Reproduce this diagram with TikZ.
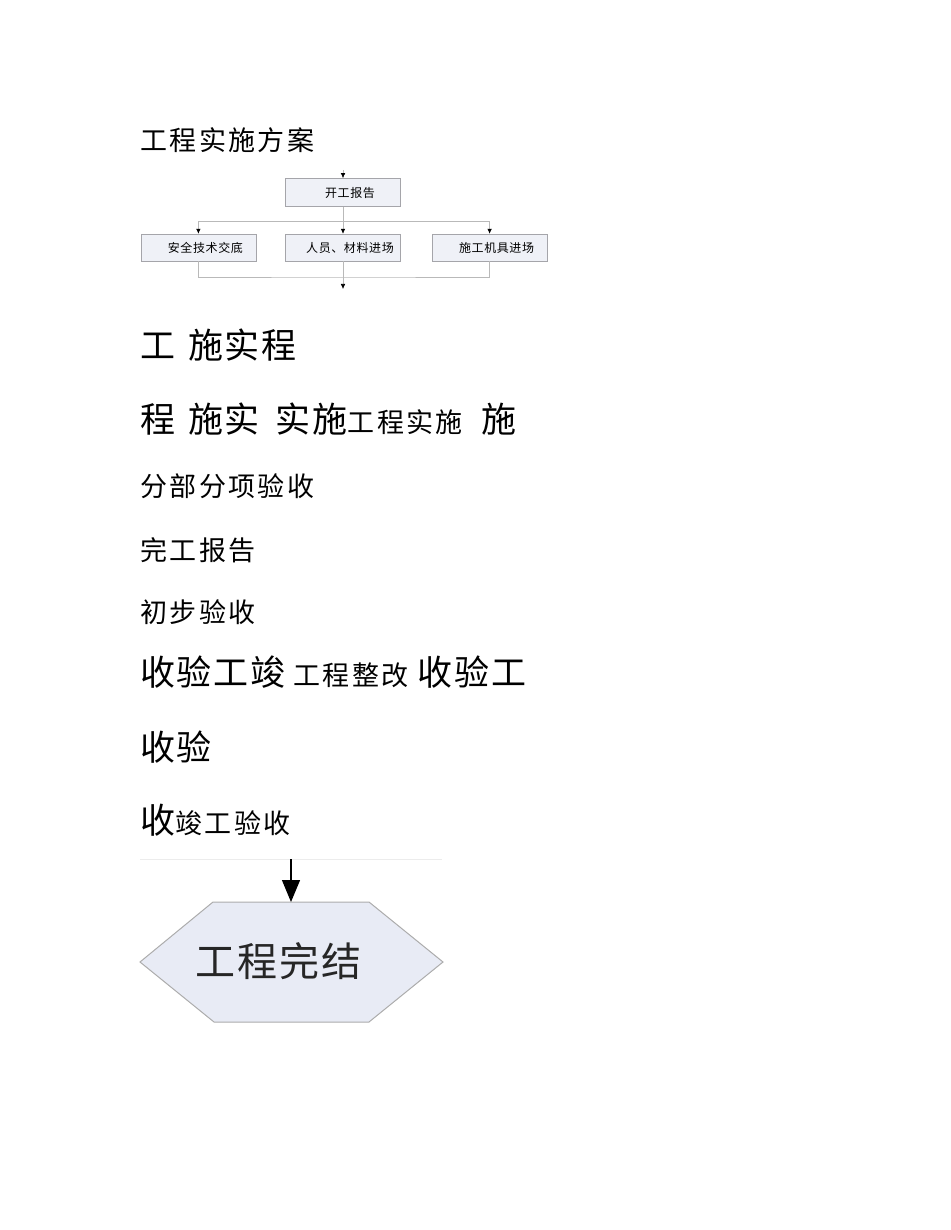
\documentclass[tikz,border=0pt]{standalone}
\usepackage{fontspec}
\newfontfamily\cjkfont[LetterSpace=5]{Noto Sans CJK SC}
\newfontfamily\cjkwide[LetterSpace=9]{Noto Sans CJK SC}
\usetikzlibrary{arrows.meta}
\usetikzlibrary{positioning}
\definecolor{boxfill}{RGB}{239,241,247}
\definecolor{boxline}{RGB}{165,165,170}
\definecolor{hexfill}{RGB}{232,235,245}
\newcommand{\DaZi}{\cjkfont\fontsize{35}{35}\selectfont}
\newcommand{\XiaoZi}{\cjkwide\fontsize{27}{27}\selectfont}
\newcommand{\Kong}{\hspace{13pt}}
\tikzstyle{stepbox} = [rectangle,fill=boxfill,draw=boxline,line width=0.6pt,minimum width=115pt,minimum height=27pt,inner sep=0pt, font=\cjkfont\fontsize{12}{12}\selectfont, execute at begin node=\hspace*{14pt}]
\tikzstyle{hexline} = [fill=hexfill,draw=gray!65,line width=1pt]
\tikzstyle{textline} = [anchor=west,inner sep=0pt,font=\cjkfont]

\begin{document}
\begin{tikzpicture}[x=1pt,y=-1pt,
  flow/.style={draw=gray!55,line width=0.6pt},
  flowarr/.style={flow,-{Latex[length=5pt,width=4.5pt,black]}},
  bigarr/.style={draw=black,line width=1.2pt,-{Triangle[length=22pt,width=18pt]}}]
\useasboundingbox (0,0) rectangle (950,1230);

% Define nodes
\node[textline] (fa) at (140,140) {\XiaoZi 工程实施方案};

\node[stepbox, minimum height=28pt] (kgbg) at (343,192.5) {开工报告};
\node[stepbox, below = 27pt of kgbg, minimum height=27pt] (ryjc) {人员、材料进场};
\node[stepbox, left  = 29pt of ryjc]                   (aqjd) {安全技术交底};
\node[stepbox, right = 31pt of ryjc]                   (sgjj) {施工机具进场};

\coordinate (start) at (343,170);
\coordinate (split) at (343,221);
\coordinate (merge) at (343,277);
\coordinate (out)   at (343,289);

\node[textline] (l1) at (140,345) {\DaZi 工\Kong 施实程};
\node[textline] (l2) at (140,419) {\DaZi 程\Kong 施实\Kong\hspace{3pt}实施{\XiaoZi 工程实施}\Kong\hspace{6pt}施};
\node[textline] (l3) at (140,486) {\XiaoZi 分部分项验收};
\node[textline] (l4) at (140,550) {\XiaoZi 完工报告};
\node[textline] (l5) at (140,612) {\XiaoZi 初步验收};
\node[textline] (l6) at (140,672) {\DaZi 收验工竣\hspace{8pt}{\XiaoZi 工程整改}\hspace{9pt}收验工};
\node[textline] (l7) at (140,747) {\DaZi 收验};
\node[textline] (l8) at (140,820) {\DaZi 收{\XiaoZi 竣工验收}};

% hexagon
\coordinate (rule-l) at (140,859);
\coordinate (rule-r) at (442,859);
\coordinate (hexin)  at (291,859);
\coordinate (hextop) at (291,902);
\draw[hexline] (140,962) -- (213,902) -- (369,902) -- (443,962) -- (369,1022) -- (214,1022) -- cycle;
\node[inner sep=0pt, font=\cjkfont\fontsize{40}{40}\selectfont, text=black!85] (wanjie) at (278.5,961) {工程完结};

% Edges
\draw[flowarr] (start) -- (kgbg.north);
\draw[flowarr] (kgbg.south) -- (ryjc.north);
\draw[flowarr] (split) -| (aqjd.north);
\draw[flowarr] (split) -| (sgjj.north);
\draw[flow] (aqjd.south) |- (merge) -| (sgjj.south);
\draw[flowarr] (ryjc.south) -- (out);

\draw[draw=gray!15,line width=0.8pt] (rule-l) -- (rule-r);
\draw[bigarr] (hexin) -- (hextop);
\end{tikzpicture}
\end{document}
